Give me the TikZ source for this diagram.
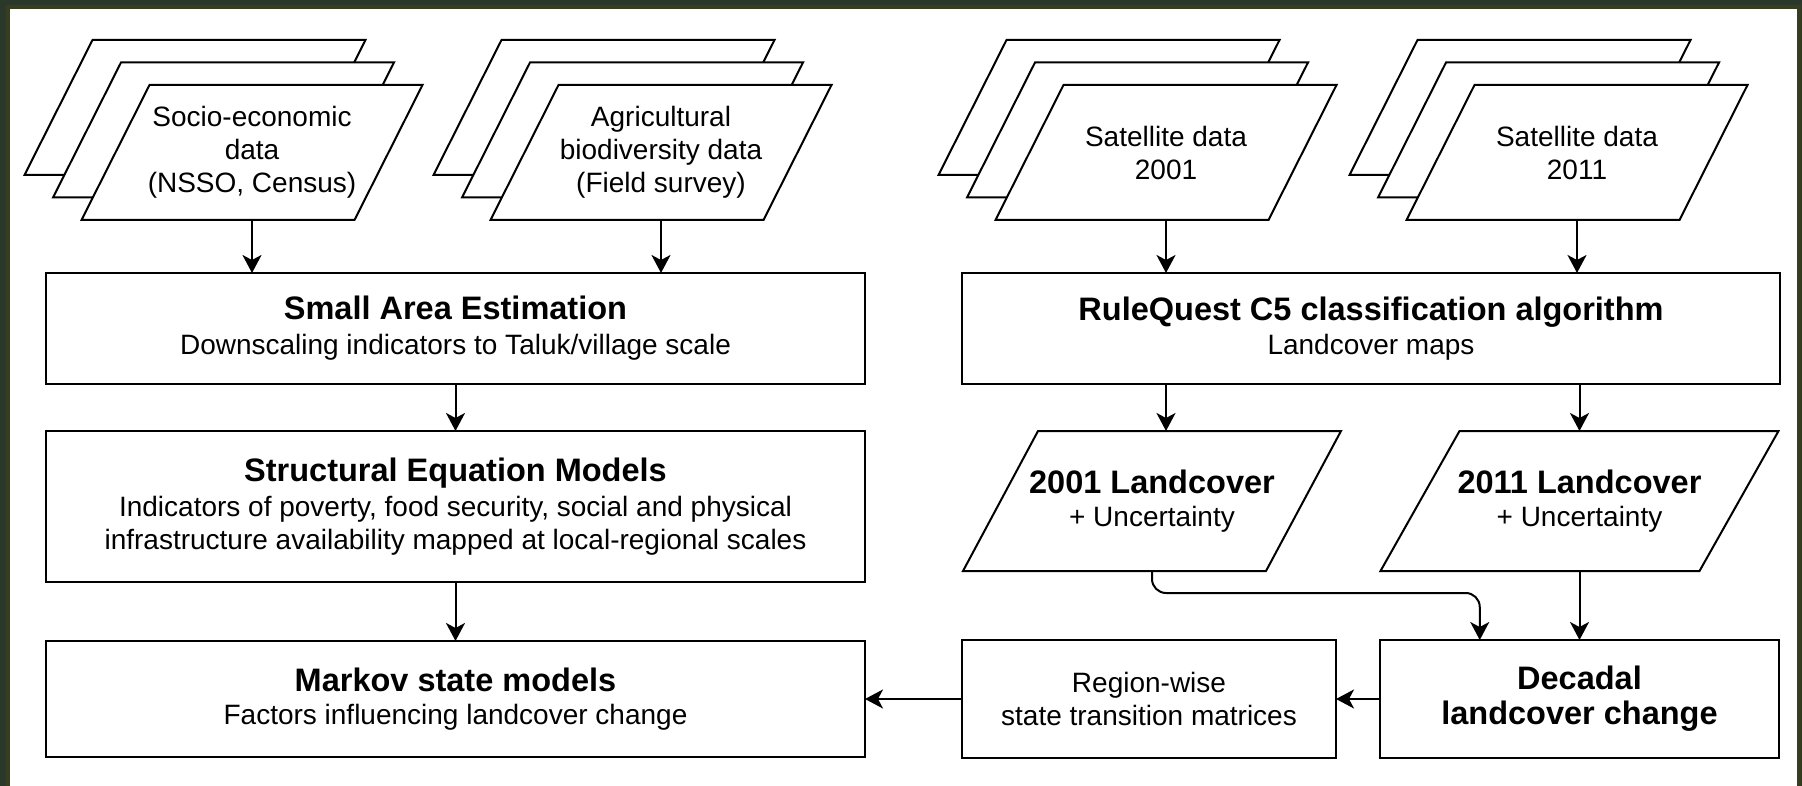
\documentclass[tikz,border=0pt]{standalone}
\usepackage{fontspec}
\setmainfont{Liberation Sans}
\usetikzlibrary{arrows.meta,backgrounds,calc}
\definecolor{photo}{RGB}{42,56,42}
\definecolor{framecol}{RGB}{55,62,32}
\newcommand{\rfnt}{\fontsize{28}{33}\selectfont}
\newcommand{\bt}[1]{{\fontsize{32.5}{35}\selectfont\bfseries #1}}
\newcommand{\para}[4]{%
  \draw[line width=2pt, fill=white]
    ($(#1.north west)+({#2/2+(#3)},{#4})$) -- ($(#1.north east)+({#2/2+(#3)},{#4})$) --
    ($(#1.south east)+({-#2/2+(#3)},{#4})$) -- ($(#1.south west)+({-#2/2+(#3)},{#4})$) -- cycle;}
\begin{document}
\begin{tikzpicture}[x=1pt,y=-1pt,
  every node/.style={inner sep=0pt, outer sep=0pt, align=center, font=\rfnt},
  box/.style={draw, line width=2pt, fill=white, rectangle},
  sheet/.style={rectangle, minimum width=273pt, minimum height=135pt},
  lcsheet/.style={rectangle, minimum height=140pt},
  arr/.style={line width=2pt, -{Stealth[length=18pt,width=19pt,inset=5pt]}},
]
\useasboundingbox (0,0) rectangle (1802,786);

% data sheets
\node[sheet] (s1) at (252,152.5) {Socio-economic\\data\\(NSSO, Census)};
\node[sheet] (s2) at (661,152.5) {Agricultural\\biodiversity data\\(Field survey)};
\node[sheet] (s3) at (1166,152.5) {Satellite data\\2001};
\node[sheet] (s4) at (1577,152.5) {Satellite data\\2011};

% process boxes
\node[box, minimum width=819pt, minimum height=111pt] (sae) at (455.5,328.5)
  {\bt{Small Area Estimation}\\[2pt]Downscaling indicators to Taluk/village scale};
\node[box, minimum width=819pt, minimum height=151pt] (sem) at (455.5,506.5)
  {\bt{Structural Equation Models}\\[2pt]Indicators of poverty, food security, social and physical\\infrastructure availability mapped at local-regional scales};
\node[box, minimum width=819pt, minimum height=116pt] (mk) at (455.5,699)
  {\bt{Markov state models}\\Factors influencing landcover change};
\node[box, minimum width=818pt, minimum height=111pt] (rq) at (1371,328.5)
  {\bt{RuleQuest C5 classification algorithm}\\[1pt]Landcover maps};
\node[lcsheet, minimum width=303pt] (lc1) at (1152,501) {\bt{2001 Landcover}\\+ Uncertainty};
\node[lcsheet, minimum width=319pt] (lc2) at (1579.5,501) {\bt{2011 Landcover}\\+ Uncertainty};
\node[box, minimum width=374pt, minimum height=118pt] (rw) at (1149,699)
  {Region-wise\\state transition matrices};
\node[box, minimum width=399pt, minimum height=118pt] (dec) at (1579.5,699)
  {\bt{Decadal}\\[2pt]\bt{landcover change}};

\coordinate (d1) at ($(dec.north west)!0.25!(dec.north east)$);

\begin{scope}[on background layer]
  \fill[photo] (0,0) rectangle (1802,786);
  \draw[framecol, line width=4pt, fill=white] (8,7) rectangle (1799,800);
  \foreach \n in {s1,s2,s3,s4} {
    \para{\n}{68}{-57}{-45}
    \para{\n}{68}{-28.5}{-22.5}
    \para{\n}{68}{0}{0}
  }
  \para{lc1}{75}{0}{0}
  \para{lc2}{79}{0}{0}
\end{scope}

% connectors
\draw[arr] (s1.south) -- (s1.south |- sae.north);
\draw[arr] (s2.south) -- (s2.south |- sae.north);
\draw[arr] (s3.south) -- (s3.south |- rq.north);
\draw[arr] (s4.south) -- (s4.south |- rq.north);
\draw[arr] (sae.south) -- (sem.north);
\draw[arr] (sem.south) -- (mk.north);
\draw[arr] (s3.south |- rq.south) -- (s3.south |- lc1.north);
\draw[arr] (lc2.north |- rq.south) -- (lc2.north);
\draw[arr, rounded corners=14pt] (lc1.south) |- ($(d1)+(0,-47)$) -- (d1);
\draw[arr] (lc2.south) -- (dec.north);
\draw[arr] (dec.west) -- (rw.east);
\draw[arr] (rw.west) -- (mk.east);
\end{tikzpicture}
\end{document}
